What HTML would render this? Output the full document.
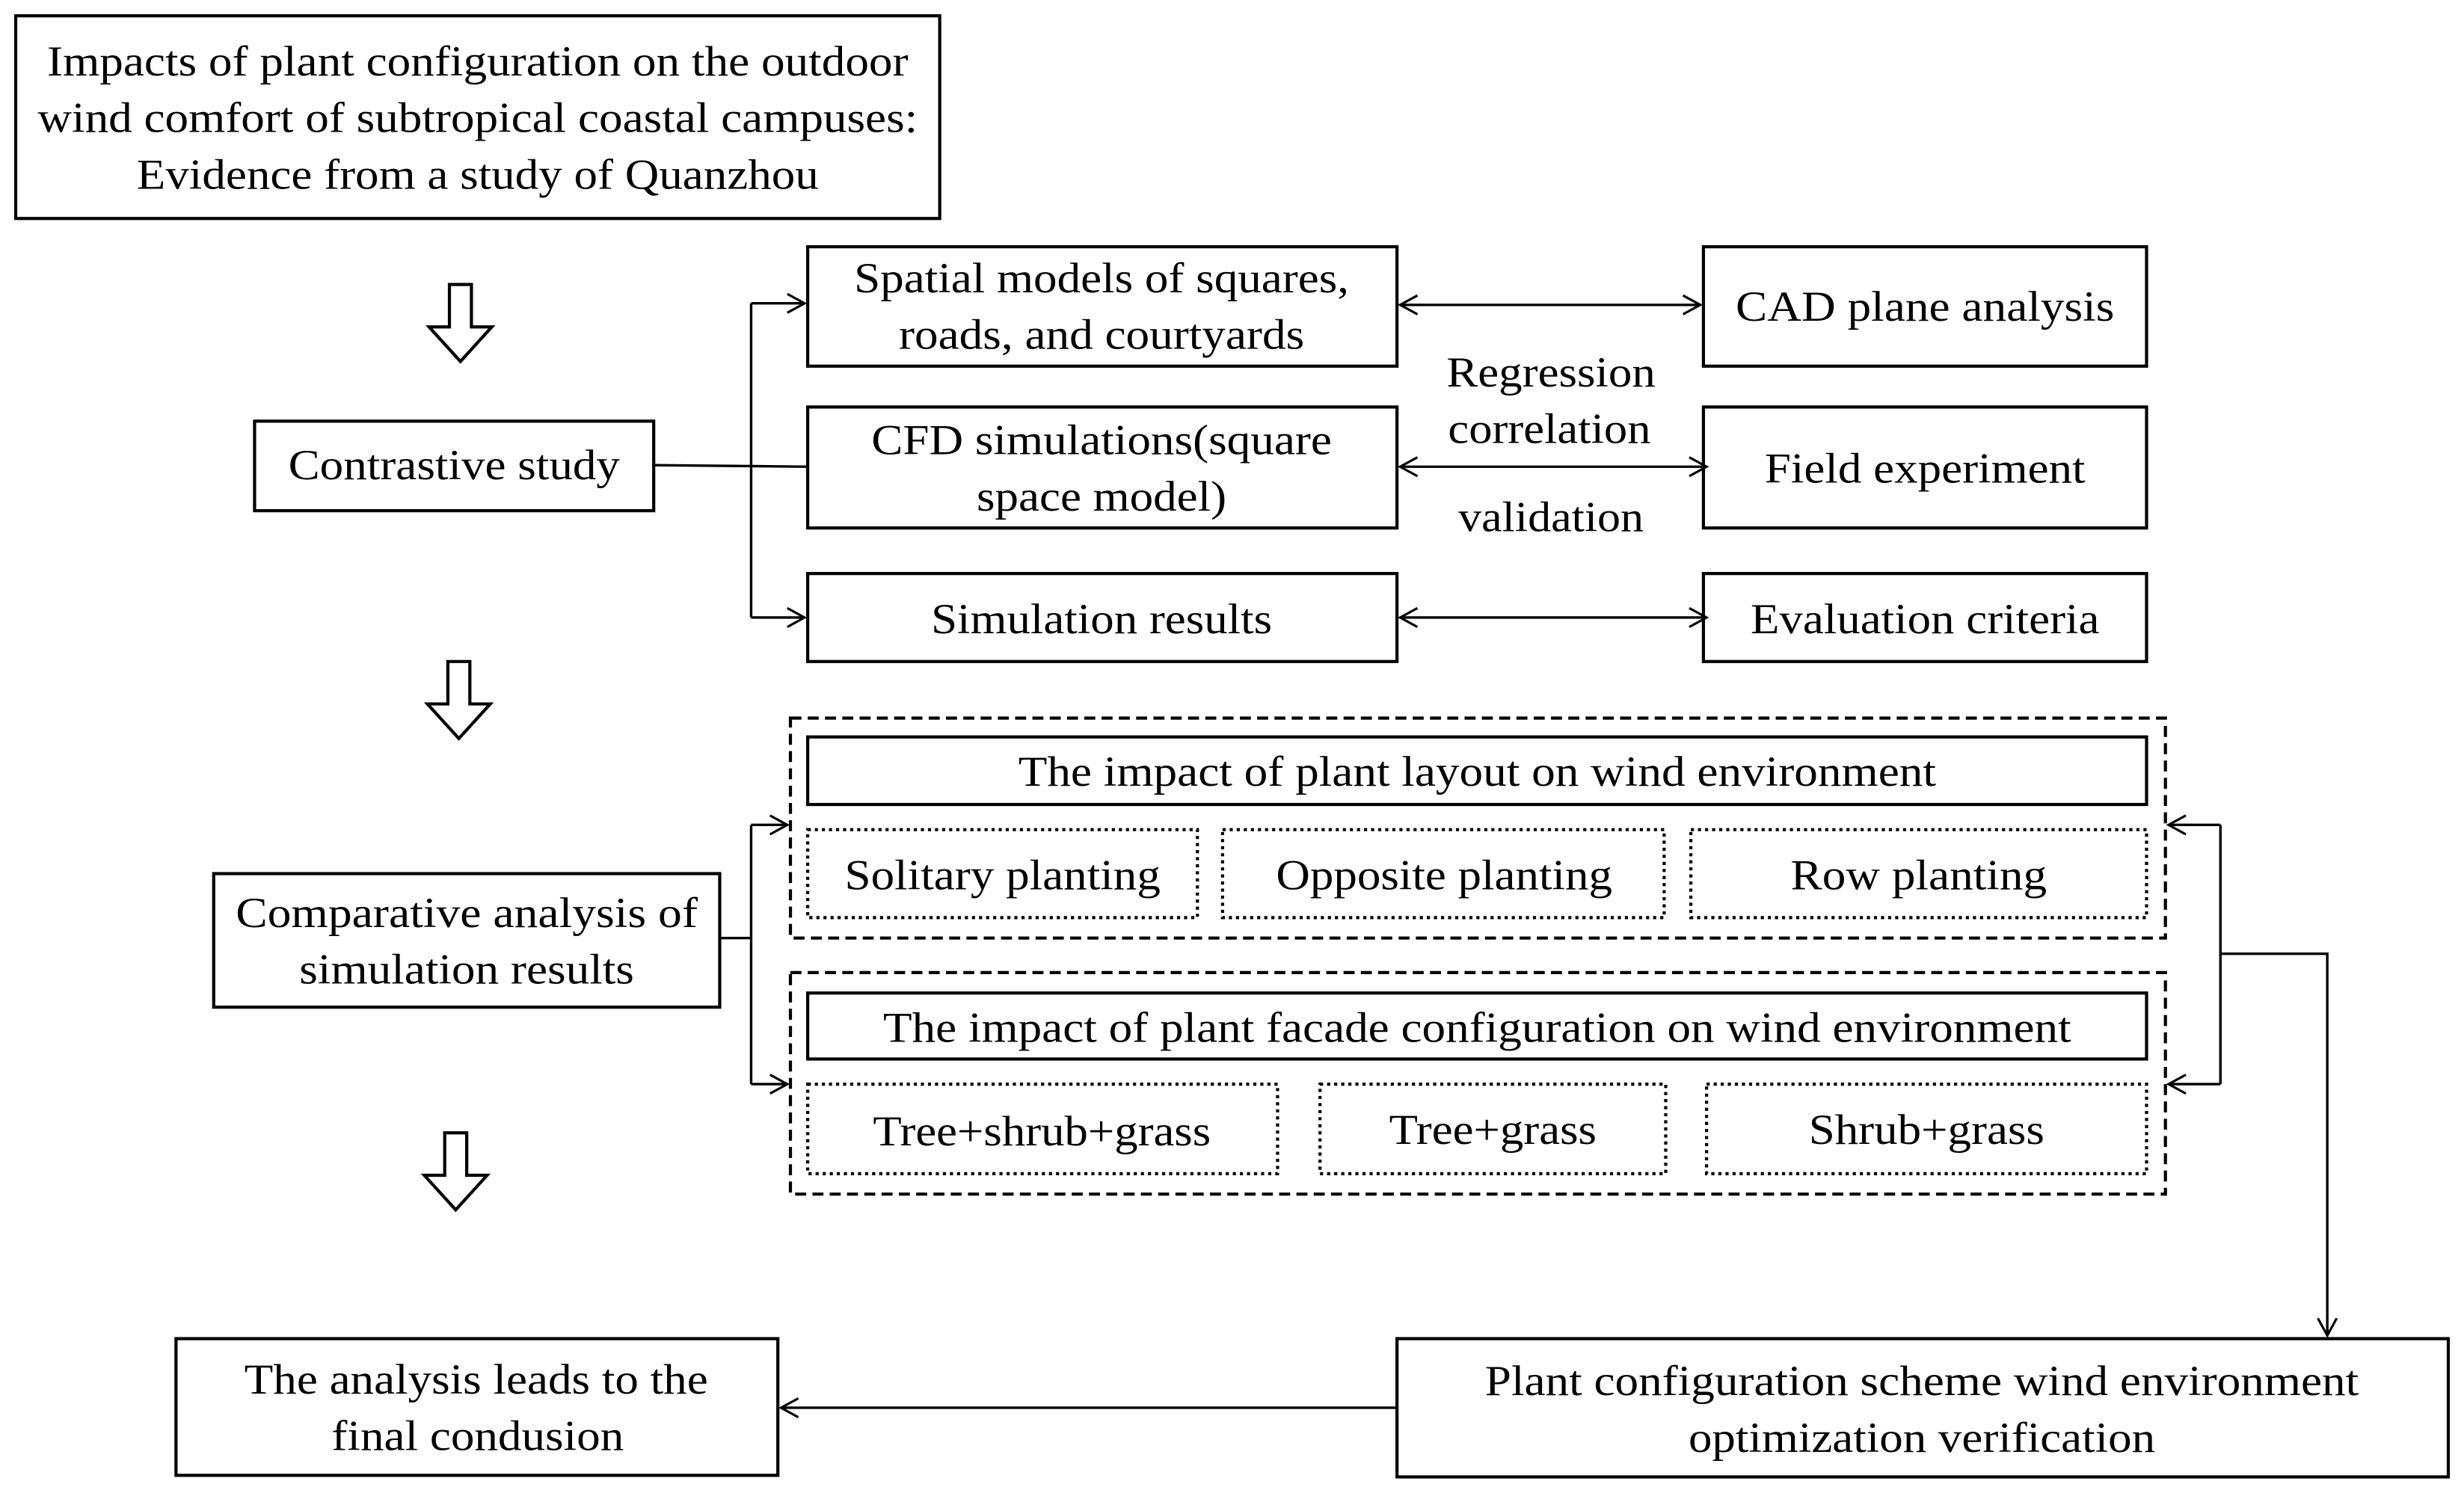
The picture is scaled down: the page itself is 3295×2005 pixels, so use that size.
<!DOCTYPE html>
<html><head><meta charset="utf-8"><style>
html,body{margin:0;padding:0;background:#fff;}
svg{display:block;}
text{font-family:"Liberation Serif",serif;font-size:27px;fill:#000;text-anchor:middle;}
</style></head><body>
<svg width="3295" height="2005" viewBox="0 0 1568 954" xmlns="http://www.w3.org/2000/svg">
<defs>
<marker id="a" markerWidth="14" markerHeight="14" refX="12" refY="7" orient="auto-start-reverse" markerUnits="userSpaceOnUse">
<path d="M1,1 L12,7 L1,13" fill="none" stroke="#000" stroke-width="1.5"/>
</marker>
</defs>
<g fill="none" stroke="#000" stroke-width="2">
<rect x="10" y="10" width="588" height="129"/>
<rect x="162" y="268" width="254" height="57"/>
<rect x="514" y="157" width="375" height="76"/>
<rect x="1084" y="157" width="282" height="76"/>
<rect x="514" y="259" width="375" height="77"/>
<rect x="1084" y="259" width="282" height="77"/>
<rect x="514" y="365" width="375" height="56"/>
<rect x="1084" y="365" width="282" height="56"/>
<rect x="136" y="556" width="322" height="85"/>
<rect x="889" y="852" width="669" height="88"/>
<rect x="112" y="852" width="383" height="87"/>
<rect x="514" y="469" width="852" height="43"/>
<rect x="514" y="632" width="852" height="42"/>
</g>
<g fill="none" stroke="#000" stroke-width="2" stroke-dasharray="7,4">
<rect x="503" y="457" width="875" height="140"/>
<rect x="503" y="619" width="875" height="141"/>
</g>
<g fill="none" stroke="#000" stroke-width="2" stroke-dasharray="2,2.5">
<rect x="514" y="528" width="248" height="56"/>
<rect x="778" y="528" width="281" height="56"/>
<rect x="1076" y="528" width="290" height="56"/>
<rect x="514" y="690" width="299" height="57"/>
<rect x="840" y="690" width="220" height="57"/>
<rect x="1086" y="690" width="280" height="57"/>
</g>
<g fill="#fff" stroke="#000" stroke-width="2">
<path d="M286,181 L300,181 L300,208 L313,208 L293,230 L273,208 L286,208 Z"/>
<path d="M285,421 L299,421 L299,448 L312,448 L292,470 L272,448 L285,448 Z"/>
<path d="M283,721 L297,721 L297,748 L310,748 L290,770 L270,748 L283,748 Z"/>
</g>
<g fill="none" stroke="#000" stroke-width="1.6">
<path d="M416,296 L514,297"/>
<path d="M478,193 L478,393"/>
<path d="M478,193 L512,193" marker-end="url(#a)"/>
<path d="M478,393 L512,393" marker-end="url(#a)"/>
<path d="M891,194 L1082,194" marker-start="url(#a)" marker-end="url(#a)"/>
<path d="M891,297 L1086,297" marker-start="url(#a)" marker-end="url(#a)"/>
<path d="M891,393 L1086,393" marker-start="url(#a)" marker-end="url(#a)"/>
<path d="M458,597 L478,597"/>
<path d="M478,525 L478,690"/>
<path d="M478,525 L501,525" marker-end="url(#a)"/>
<path d="M478,690 L501,690" marker-end="url(#a)"/>
<path d="M1413,525 L1413,690"/>
<path d="M1413,525 L1380,525" marker-end="url(#a)"/>
<path d="M1413,690 L1380,690" marker-end="url(#a)"/>
<path d="M1413,607 L1481,607 L1481,850" marker-end="url(#a)"/>
<path d="M889,896 L497,896" marker-end="url(#a)"/>
</g>
<g>
<text x="304" y="48" textLength="548" lengthAdjust="spacingAndGlyphs">Impacts of plant configuration on the outdoor</text>
<text x="304" y="84" textLength="560" lengthAdjust="spacingAndGlyphs">wind comfort of subtropical coastal campuses:</text>
<text x="304" y="120" textLength="434" lengthAdjust="spacingAndGlyphs">Evidence from a study of Quanzhou</text>
<text x="289" y="305" textLength="211" lengthAdjust="spacingAndGlyphs">Contrastive study</text>
<text x="701" y="186" textLength="315" lengthAdjust="spacingAndGlyphs">Spatial models of squares,</text>
<text x="701" y="222" textLength="258" lengthAdjust="spacingAndGlyphs">roads, and courtyards</text>
<text x="1225" y="204" textLength="241" lengthAdjust="spacingAndGlyphs">CAD plane analysis</text>
<text x="701" y="289" textLength="293" lengthAdjust="spacingAndGlyphs">CFD simulations(square</text>
<text x="701" y="325" textLength="159" lengthAdjust="spacingAndGlyphs">space model)</text>
<text x="1225" y="307" textLength="204" lengthAdjust="spacingAndGlyphs">Field experiment</text>
<text x="701" y="403" textLength="217" lengthAdjust="spacingAndGlyphs">Simulation results</text>
<text x="1225" y="403" textLength="222" lengthAdjust="spacingAndGlyphs">Evaluation criteria</text>
<text x="987" y="246" textLength="133" lengthAdjust="spacingAndGlyphs">Regression</text>
<text x="986" y="282" textLength="129" lengthAdjust="spacingAndGlyphs">correlation</text>
<text x="987" y="338" textLength="118" lengthAdjust="spacingAndGlyphs">validation</text>
<text x="940" y="500" textLength="584" lengthAdjust="spacingAndGlyphs">The impact of plant layout on wind environment</text>
<text x="638" y="566" textLength="201" lengthAdjust="spacingAndGlyphs">Solitary planting</text>
<text x="919" y="566" textLength="214" lengthAdjust="spacingAndGlyphs">Opposite planting</text>
<text x="1221" y="566" textLength="163" lengthAdjust="spacingAndGlyphs">Row planting</text>
<text x="297" y="590" textLength="294" lengthAdjust="spacingAndGlyphs">Comparative analysis of</text>
<text x="297" y="626" textLength="213" lengthAdjust="spacingAndGlyphs">simulation results</text>
<text x="940" y="663" textLength="756" lengthAdjust="spacingAndGlyphs">The impact of plant facade configuration on wind environment</text>
<text x="663" y="729" textLength="215" lengthAdjust="spacingAndGlyphs">Tree+shrub+grass</text>
<text x="950" y="728" textLength="132" lengthAdjust="spacingAndGlyphs">Tree+grass</text>
<text x="1226" y="728" textLength="150" lengthAdjust="spacingAndGlyphs">Shrub+grass</text>
<text x="303" y="887" textLength="295" lengthAdjust="spacingAndGlyphs">The analysis leads to the</text>
<text x="304" y="923" textLength="186" lengthAdjust="spacingAndGlyphs">final condusion</text>
<text x="1223" y="888" textLength="556" lengthAdjust="spacingAndGlyphs">Plant configuration scheme wind environment</text>
<text x="1223" y="924" textLength="297" lengthAdjust="spacingAndGlyphs">optimization verification</text>
</g>
</svg>
</body></html>
